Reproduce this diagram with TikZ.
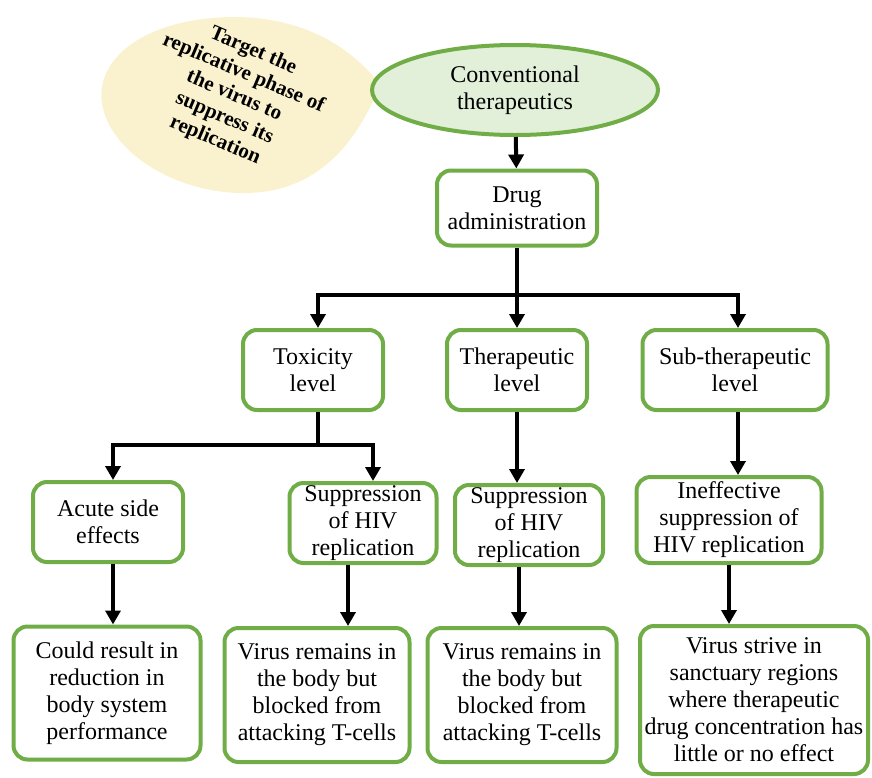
\documentclass[tikz,border=0pt]{standalone}
\usepackage{fontspec}
\setmainfont{Liberation Serif}
\usetikzlibrary{arrows.meta,shapes.geometric}

\definecolor{leaf}{RGB}{112,173,71}
\definecolor{mint}{RGB}{226,240,217}
\definecolor{cream}{RGB}{250,242,206}

\begin{document}
\begin{tikzpicture}[
  x=0.5pt,y=-0.5pt,
  box/.style={draw=leaf,line width=2pt,rounded corners=7pt,fill=white,align=center,
              inner sep=1pt,minimum height=40pt,font=\fontsize{12}{13.5}\selectfont},
  oval/.style={ellipse,draw=leaf,line width=2pt,fill=mint,align=center,
               minimum width=143pt,minimum height=45pt,font=\fontsize{12}{13.5}\selectfont},
  line/.style={line width=2pt},
  arrow/.style={line,-{Triangle[length=7pt,width=7.5pt]}}
]
\useasboundingbox (0,0) rectangle (872,777);
% callout
\fill[cream] (378,82) .. controls (330,22) and (255,8) .. (185,22)
  .. controls (120,36) and (92,75) .. (104,112)
  .. controls (118,160) and (190,200) .. (262,192)
  .. controls (330,184) and (362,128) .. (378,90) -- cycle;
\node[align=center,rotate=-23,inner sep=0pt,
      font=\fontsize{10.5}{12.2}\selectfont\bfseries] (target) at (234,96)
  {Target the\\replicative phase of\\the virus to\\suppress its\\replication};

\node[oval] (conv) at (515,90) {Conventional\\therapeutics};
\node[box,minimum width=80pt,minimum height=37.5pt] (drug) at (517,208) {Drug\\administration};

\node[box,minimum width=70pt] (tox) at (313,370) {Toxicity\\level};
\node[box,minimum width=70pt] (ther) at (517,370) {Therapeutic\\level};
\node[box,minimum width=92.5pt] (sub) at (735,370) {Sub-therapeutic\\level};

\node[box,minimum width=75pt] (acute) at (108,522) {Acute side\\effects};
\node[box,minimum width=73.5pt] (suppA) at (363,523) {Suppression\\of HIV\\replication};
\node[box,minimum width=74pt] (suppB) at (529,525) {Suppression\\of HIV\\replication};
\node[box,minimum width=92.5pt,minimum height=43pt] (ineff) at (729,520) {Ineffective\\suppression of\\HIV replication};

\node[box,minimum width=93.5pt,minimum height=66.5pt] (could) at (107,693)
  {Could result in\\reduction in\\body system\\performance};
\node[box,minimum width=92.5pt,minimum height=67pt] (virA) at (317,695)
  {Virus remains in\\the body but\\blocked from\\attacking T-cells};
\node[box,minimum width=94.5pt,minimum height=67pt] (virB) at (522,695)
  {Virus remains in\\the body but\\blocked from\\attacking T-cells};
\node[box,minimum width=114pt,minimum height=74pt] (strive) at (754,700)
  {Virus strive in\\sanctuary regions\\where therapeutic\\drug concentration has\\little or no effect};

\coordinate (split) at (517,295);
\coordinate (fork) at (318,445);

\draw[arrow] (conv) -- (drug);
\draw[line] (drug) -- (split);
\draw[arrow] (split) -| ([xshift=2.5pt]tox.north);
\draw[arrow] (split) -- (ther);
\draw[arrow] (split) -| ([xshift=1.5pt]sub.north);

\draw[line] ([xshift=2.5pt]tox.south) -- (fork);
\draw[arrow] (fork) -| ([xshift=2.5pt]acute.north);
\draw[arrow] (fork) -| ([xshift=5pt]suppA.north);
\draw[arrow] (ther) -- (ther |- suppB.north);
\draw[arrow] ([xshift=1.5pt]sub.south) -- ([xshift=1.5pt]sub.south |- ineff.north);

\draw[arrow] ([xshift=2.5pt]acute.south) -- ([xshift=2.5pt]acute.south |- could.north);
\draw[arrow] ([xshift=-7.5pt]suppA.south) -- ([xshift=-7.5pt]suppA.south |- virA.north);
\draw[arrow] ([xshift=-5pt]suppB.south) -- ([xshift=-5pt]suppB.south |- virB.north);
\draw[arrow] (ineff) -- (ineff |- strive.north);
\end{tikzpicture}
\end{document}
